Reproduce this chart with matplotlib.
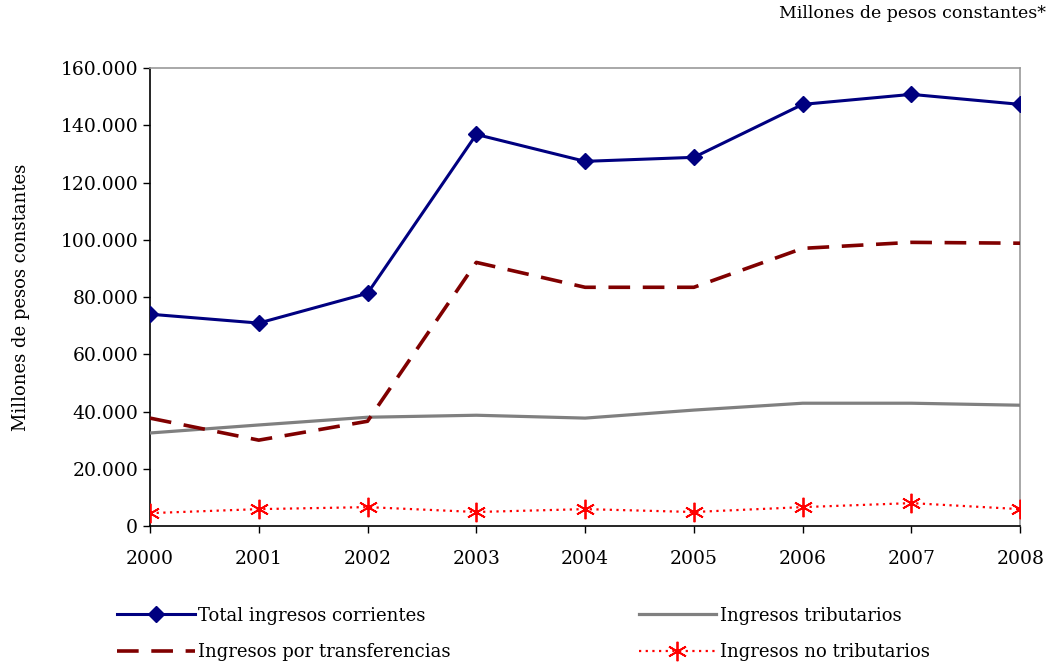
import matplotlib
matplotlib.use("Agg")
import matplotlib.pyplot as plt
from matplotlib.ticker import FuncFormatter

anios = [2000, 2001, 2002, 2003, 2004, 2005, 2006, 2007, 2008]
total_corrientes = [74000, 70900, 81300, 136800, 127400, 128800, 147300, 150800, 147300]
transferencias = [37700, 30000, 36600, 92100, 83400, 83400, 97000, 99100, 98800]
tributarios = [32500, 35300, 38000, 38700, 37700, 40500, 42900, 42900, 42200]
no_tributarios = [4500, 5900, 6600, 4900, 5900, 4900, 6600, 8000, 5900]

plt.rcParams['font.family'] = ['DejaVu Serif']

fig = plt.figure(figsize=(10.51, 6.65), dpi=100)
ax = fig.add_axes([0.1427, 0.209, 0.828, 0.6887])

l1, = ax.plot(anios, total_corrientes, color='#000080', lw=2.2, marker='D', ms=8,
              label='Total ingresos corrientes', zorder=5)
l2, = ax.plot(anios, transferencias, color='#800000', lw=2.6, dashes=(6, 3.5),
              label='Ingresos por transferencias', zorder=4)
l3, = ax.plot(anios, tributarios, color='#808080', lw=2.3,
              label='Ingresos tributarios', zorder=3)
l4, = ax.plot(anios, no_tributarios, color='#ff0000', lw=1.6, dashes=(1, 2),
              marker=(6, 2, 0), ms=14, mew=1.3, mec='#ff0000',
              label='Ingresos no tributarios', zorder=6)

ax.set_xlim(2000, 2008)
ax.set_ylim(0, 160000)
ax.set_yticks(range(0, 160001, 20000))
ax.yaxis.set_major_formatter(FuncFormatter(lambda v, p: '0' if v == 0 else f'{int(v):,}'.replace(',', '.')))
ax.set_xticks(anios)
ax.tick_params(axis='both', direction='out', length=5, width=1, labelsize=13.5)
ax.tick_params(axis='x', pad=12)
for lab in ax.get_xticklabels() + ax.get_yticklabels():
    lab.set_clip_on(False)

ax.spines['left'].set_color('black')
ax.spines['bottom'].set_color('black')
ax.spines['top'].set_color('#999999')
ax.spines['right'].set_color('#999999')
for s in ax.spines.values():
    s.set_linewidth(1.2)

ax.set_ylabel('Millones de pesos constantes', fontsize=13, labelpad=22)
fig.text(0.995, 0.973, 'Millones de pesos constantes*', ha='right', va='baseline', fontsize=12.5)

fig.legend(handles=[l1, l2, l3, l4], ncol=2, loc='upper left',
           bbox_to_anchor=(0.096, 0.112), frameon=False, fontsize=13,
           handlelength=4.3, columnspacing=10.4, labelspacing=1.0, handletextpad=0.2)

fig.savefig('out.png', dpi=100)
